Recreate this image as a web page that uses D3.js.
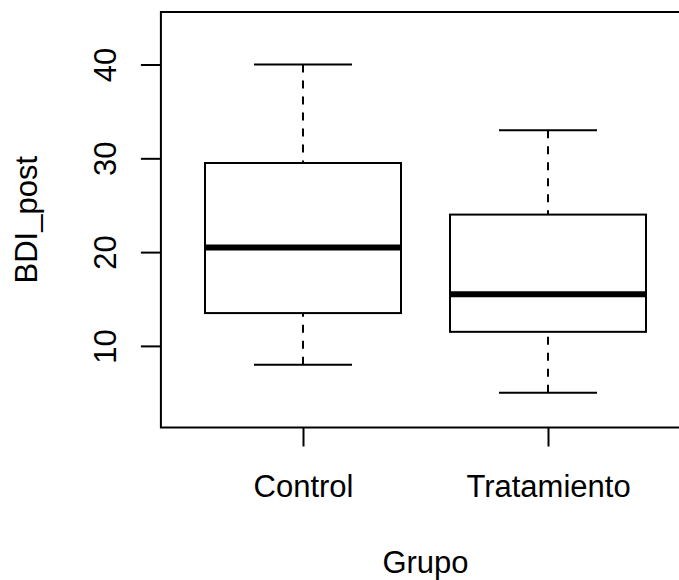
<!DOCTYPE html>
<html>
<head>
<meta charset="utf-8">
<script src="https://cdn.jsdelivr.net/npm/d3@7"></script>
<style>
  html, body { margin: 0; padding: 0; background: #fff; }
  svg { display: block; }
  text { font-family: "Liberation Sans", Arial, Helvetica, sans-serif; fill: #000; }
</style>
</head>
<body>
<script>
// Five-number summaries of BDI_post per group
const groups = ["Control", "Tratamiento"];
const whiskerLow = [8, 5];
const q1 = [13.5, 11.5];
const median = [20.5, 15.5];
const q3 = [29.5, 24];
const whiskerHigh = [40, 33];
const yTicks = [10, 20, 30, 40];

const W = 679, H = 580;
const fontSize = 31;

const svg = d3.select("body").append("svg")
  .attr("width", W).attr("height", H);

// Plot region (x range runs past the right edge of the window)
const x = d3.scaleLinear().domain([0.42, 2.58]).range([160.9, 690.1]);
const y = d3.scaleLinear().domain([1.3, 45.6]).range([427.5, 12]);

const unit = x(2) - x(1);
const boxW = 0.8 * unit;
const capW = 0.4 * unit;

const data = groups.map((g, i) => ({
  g, i: i + 1,
  lo: whiskerLow[i], q1: q1[i], med: median[i], q3: q3[i], hi: whiskerHigh[i]
}));

const gBox = svg.append("g");

data.forEach(d => {
  const cx = x(d.i);
  // dashed whiskers, drawn from the whisker end toward the box
  gBox.append("line")
    .attr("x1", cx).attr("x2", cx).attr("y1", y(d.hi)).attr("y2", y(d.q3))
    .attr("stroke", "#000").attr("stroke-width", 2).attr("stroke-dasharray", "8,8");
  gBox.append("line")
    .attr("x1", cx).attr("x2", cx).attr("y1", y(d.lo)).attr("y2", y(d.q1))
    .attr("stroke", "#000").attr("stroke-width", 2).attr("stroke-dasharray", "8,8");
  // whisker caps
  [d.hi, d.lo].forEach(v => {
    gBox.append("line")
      .attr("x1", cx - capW / 2).attr("x2", cx + capW / 2)
      .attr("y1", y(v)).attr("y2", y(v))
      .attr("stroke", "#000").attr("stroke-width", 2);
  });
  // box
  gBox.append("rect")
    .attr("x", cx - boxW / 2).attr("width", boxW)
    .attr("y", y(d.q3)).attr("height", y(d.q1) - y(d.q3))
    .attr("fill", "#fff").attr("stroke", "#000").attr("stroke-width", 2);
  // median
  gBox.append("line")
    .attr("x1", cx - boxW / 2).attr("x2", cx + boxW / 2)
    .attr("y1", y(d.med)).attr("y2", y(d.med))
    .attr("stroke", "#000").attr("stroke-width", 6);
});

// frame
svg.append("rect")
  .attr("x", x(0.42)).attr("y", y(45.6))
  .attr("width", x(2.58) - x(0.42)).attr("height", y(1.3) - y(45.6))
  .attr("fill", "none").attr("stroke", "#000").attr("stroke-width", 2);

// y axis
const yAxis = d3.axisLeft(y).tickValues(yTicks).tickSize(20).tickSizeOuter(0).tickPadding(26);
const gy = svg.append("g").attr("transform", `translate(${x(0.42)},0)`).call(yAxis);
gy.select(".domain").remove();
gy.selectAll(".tick line").attr("stroke-width", 2);
gy.selectAll(".tick text")
  .attr("font-size", fontSize)
  .attr("x", null).attr("dy", null)
  .attr("text-anchor", "middle")
  .attr("transform", "translate(-45,0) rotate(-90)");

// x axis
const xAxis = d3.axisBottom(x).tickValues([1, 2]).tickFormat(v => groups[v - 1])
  .tickSize(19).tickSizeOuter(0);
const gx = svg.append("g").attr("transform", `translate(0,${y(1.3)})`).call(xAxis);
gx.select(".domain").remove();
gx.selectAll(".tick line").attr("stroke-width", 2);
gx.selectAll(".tick text")
  .attr("font-size", fontSize)
  .attr("y", 69.5).attr("dy", null);

// axis titles
svg.append("text")
  .attr("x", (x(0.42) + x(2.58)) / 2).attr("y", 573)
  .attr("text-anchor", "middle").attr("font-size", fontSize)
  .text("Grupo");

svg.append("text")
  .attr("transform", `translate(37,${(y(1.3) + y(45.6)) / 2}) rotate(-90)`)
  .attr("text-anchor", "middle").attr("font-size", fontSize)
  .text("BDI_post");
</script>
</body>
</html>
